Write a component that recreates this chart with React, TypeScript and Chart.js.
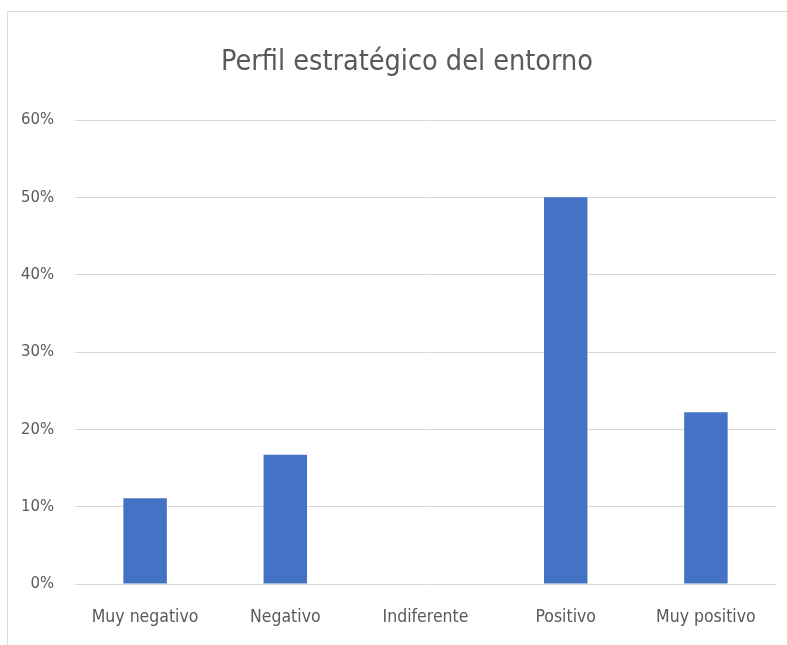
import React, { useEffect, useRef } from "react";
import { Chart, registerables } from "chart.js";

Chart.register(...registerables);

const categories = ["Muy negativo", "Negativo", "Indiferente", "Positivo", "Muy positivo"];
const values = [11.1, 16.7, 0, 50, 22.2];
const yTicks = [0, 10, 20, 30, 40, 50, 60];
const titleText = "Perfil estratégico del entorno";

const FONT = "'DejaVu Sans Condensed', Lato, sans-serif";

const titlePlugin = {
  id: "customTitle",
  afterDraw(chart: any) {
    const c = chart.ctx;
    c.save();
    c.fillStyle = "#595959";
    c.font = `normal 28.5px ${FONT}`;
    c.textAlign = "center";
    c.textBaseline = "middle";
    c.fillText(titleText, 407, 63);
    c.restore();
  },
};

export default function App() {
  const ref = useRef<HTMLCanvasElement | null>(null);
  useEffect(() => {
    document.body.style.margin = "0";
    const ctx = ref.current!;
    const chart = new Chart(ctx, {
      type: "bar",
      data: {
        labels: categories,
        datasets: [
          {
            data: values,
            backgroundColor: "#4472C4",
            borderWidth: 0,
            categoryPercentage: 1,
            barPercentage: 0.31,
          },
        ],
      },
      plugins: [titlePlugin],
      options: {
        responsive: false,
        animation: false,
        devicePixelRatio: 1,
        layout: { padding: { left: 7, right: 11, top: 120, bottom: 2 } },
        plugins: {
          legend: { display: false },
          tooltip: { enabled: false },
          title: { display: false },
        },
        scales: {
          x: {
            grid: { display: false },
            border: { display: false },
            ticks: {
              color: "#595959",
              font: { family: FONT, size: 17.5 },
              padding: 15,
              maxRotation: 0,
            },
          },
          y: {
            min: 0,
            max: 60,
            afterFit: (s: any) => {
              s.width = 68;
            },
            afterBuildTicks: (s: any) => {
              s.ticks = yTicks.map((v) => ({ value: v }));
            },
            grid: { color: "#d9d9d9", lineWidth: 1, drawTicks: false },
            border: { display: false },
            ticks: {
              color: "#595959",
              font: { family: FONT, size: 16.5 },
              padding: 21,
              callback: (v: any) => v + "%",
            },
          },
        },
      },
    });
    return () => chart.destroy();
  }, []);
  return (
    <div style={{ position: "relative", width: 787, height: 645, background: "#fff" }}>
      <div
        style={{
          position: "absolute",
          left: 7,
          top: 11,
          width: 780,
          height: 634,
          borderLeft: "1px solid #d9d9d9",
          borderTop: "1px solid #d9d9d9",
        }}
      />
      <canvas ref={ref} width={787} height={645} style={{ position: "absolute", left: 0, top: 0 }} />
    </div>
  );
}
